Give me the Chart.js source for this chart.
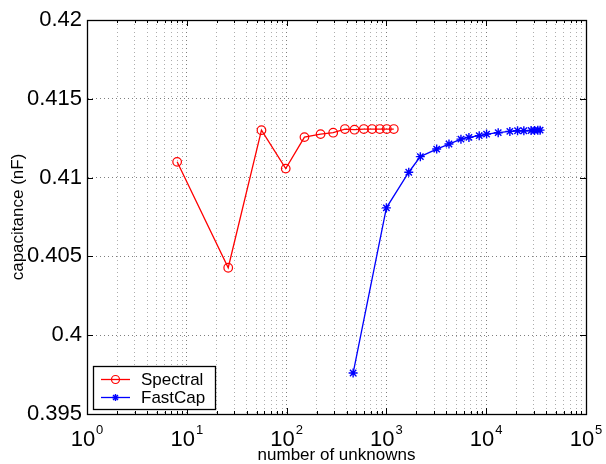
<!DOCTYPE html>
<html><head><meta charset="utf-8">
<script src="https://cdn.jsdelivr.net/npm/chart.js@4.4.0/dist/chart.umd.min.js"></script>
<style>html,body{margin:0;padding:0;background:#fff}canvas{display:block}</style>
</head><body>
<canvas id="c" width="606" height="464"></canvas>
<script>
// ---- data ----
const seriesNames = ['Spectral', 'FastCap'];
const spectralUnknowns = [8, 26, 56, 98, 151, 219, 293, 384, 479, 594, 719, 859, 1009, 1186];
const spectralCap = [0.4110, 0.40428, 0.41301, 0.41057, 0.41257, 0.41276, 0.41285, 0.41308, 0.41304, 0.41308, 0.41308, 0.41308, 0.41308, 0.41308];
const fastcapUnknowns = [464, 1000, 1675, 2188, 3190, 4237, 5585, 6714, 8511, 10090, 13190, 17260, 20620, 23830, 28180, 30480, 32890, 34680];
const fastcapCap = [0.3976, 0.40808, 0.41034, 0.41133, 0.41181, 0.41213, 0.41244, 0.41255, 0.41266, 0.41276, 0.41285, 0.41293, 0.41297, 0.41297, 0.41299, 0.41299, 0.41301, 0.41301];
const xDecades = [1, 10, 100, 1000, 10000, 100000];
const xExponents = ['0', '1', '2', '3', '4', '5'];
const yTicks = [0.395, 0.4, 0.405, 0.41, 0.415, 0.42];
const yTickLabels = ['0.395', '0.4', '0.405', '0.41', '0.415', '0.42'];
const xTitle = 'number of unknowns';
const yTitle = 'capacitance (nF)';

const FONT = '"Liberation Sans", Arial, Helvetica, sans-serif';
const toXY = (xs, ys) => xs.map((x, i) => ({x: x, y: ys[i]}));

const matlabPlugin = {
  id: 'matlabBox',
  afterDraw(chart) {
    const ctx = chart.ctx, a = chart.chartArea, xs = chart.scales.x, ys = chart.scales.y;
    ctx.save();
    ctx.strokeStyle = '#000';
    ctx.lineWidth = 1;
    ctx.setLineDash([]);
    // inner tick marks
    ctx.beginPath();
    xs.ticks.forEach(t => {
      const px = Math.round(xs.getPixelForValue(t.value)) + 0.5;
      const len = t.major ? 6 : 3;
      ctx.moveTo(px, a.bottom); ctx.lineTo(px, a.bottom - len);
      ctx.moveTo(px, a.top); ctx.lineTo(px, a.top + len);
    });
    ys.ticks.forEach(t => {
      const py = Math.round(ys.getPixelForValue(t.value)) + 0.5;
      ctx.moveTo(a.left, py); ctx.lineTo(a.left + 6, py);
      ctx.moveTo(a.right, py); ctx.lineTo(a.right - 6, py);
    });
    ctx.stroke();
    // box
    ctx.lineWidth = 1.3;
    ctx.strokeRect(Math.round(a.left) + 0.5, Math.round(a.top) + 0.5, Math.round(a.right - a.left), Math.round(a.bottom - a.top));

    // x tick labels 10^k
    ctx.fillStyle = '#000';
    ctx.textBaseline = 'alphabetic';
    ctx.textAlign = 'left';
    xDecades.forEach((v, i) => {
      const px = xs.getPixelForValue(v);
      ctx.font = '22px ' + FONT;
      const wb = ctx.measureText('10').width;
      ctx.font = '13px ' + FONT;
      const we = ctx.measureText(xExponents[i]).width;
      const start = px - (wb + 1 + we) / 2;
      ctx.font = '22px ' + FONT;
      ctx.fillText('10', start, 446);
      ctx.font = '13px ' + FONT;
      ctx.fillText(xExponents[i], start + wb + 1, 433.5);
    });

    // legend
    const lx = 93.5, ly = 366.5, lw = 122, lh = 43;
    ctx.fillStyle = '#fff';
    ctx.fillRect(lx, ly, lw, lh);
    ctx.strokeStyle = '#000';
    ctx.lineWidth = 1.3;
    ctx.strokeRect(lx, ly, lw, lh);
    const rows = [379.5, 397.5];
    chart.data.datasets.forEach((ds, i) => {
      const yy = rows[i];
      ctx.strokeStyle = ds.borderColor;
      ctx.lineWidth = ds.borderWidth;
      ctx.beginPath(); ctx.moveTo(101, yy); ctx.lineTo(130, yy); ctx.stroke();
      ctx.fillStyle = 'rgba(0,0,0,0)';
      ctx.lineWidth = ds.pointBorderWidth;
      Chart.helpers.drawPoint(ctx, {pointStyle: ds.pointStyle, radius: i === 0 ? 4 : 3.5, rotation: 0, borderWidth: ds.pointBorderWidth}, 115.5, yy);
      ctx.fillStyle = '#000';
      ctx.font = '17px ' + FONT;
      ctx.textBaseline = 'middle';
      ctx.fillText(ds.label, 141, yy + 1);
    });
    ctx.restore();
  }
};

const gridMajor = 'rgba(0,0,0,0.5)';
const gridMinor = 'rgba(0,0,0,0.32)';

new Chart(document.getElementById('c'), {
  type: 'line',
  data: {
    datasets: [
      {
        label: seriesNames[0],
        data: toXY(spectralUnknowns, spectralCap),
        borderColor: '#ff0000',
        backgroundColor: 'rgba(0,0,0,0)',
        borderWidth: 1.3,
        pointStyle: 'circle',
        pointRadius: 4.3,
        pointBorderWidth: 1.2,
        pointBackgroundColor: 'rgba(0,0,0,0)',
        pointBorderColor: '#ff0000',
        tension: 0,
        fill: false
      },
      {
        label: seriesNames[1],
        data: toXY(fastcapUnknowns, fastcapCap),
        borderColor: '#0000ff',
        backgroundColor: 'rgba(0,0,0,0)',
        borderWidth: 1.3,
        pointStyle: 'star',
        pointRadius: 4.5,
        pointBorderWidth: 1.4,
        pointBorderColor: '#0000ff',
        tension: 0,
        fill: false
      }
    ]
  },
  options: {
    responsive: false,
    animation: false,
    devicePixelRatio: 1,
    layout: {padding: {top: 20, right: 20, left: 0, bottom: 0}},
    plugins: {legend: {display: false}, tooltip: {enabled: false}},
    scales: {
      x: {
        type: 'logarithmic',
        position: 'bottom',
        min: 1,
        max: 100000,
        afterBuildTicks: (s) => {
          const t = [];
          for (let k = 0; k < xDecades.length - 1; k++) {
            for (let m = 1; m <= 9; m++) t.push({value: m * xDecades[k], major: m === 1});
          }
          t.push({value: xDecades[xDecades.length - 1], major: true});
          s.ticks = t;
        },
        afterFit: (s) => { s.height = 50; },
        ticks: {display: false},
        grid: {color: (c) => (c.tick && c.tick.major) ? gridMajor : gridMinor, lineWidth: 1, drawTicks: false},
        border: {display: true, color: '#000', width: 1, dash: [1, 3]},
        title: {display: true, text: xTitle, color: '#000', font: {family: FONT, size: 17, lineHeight: 1}, padding: {top: 0, bottom: 0}}
      },
      y: {
        type: 'linear',
        min: yTicks[0],
        max: yTicks[yTicks.length - 1],
        afterBuildTicks: (s) => { s.ticks = yTicks.map(v => ({value: v})); },
        afterFit: (s) => { s.width = 87; },
        ticks: {
          color: '#000',
          font: {family: FONT, size: 22},
          padding: 5,
          callback: (v) => { const i = yTicks.findIndex(t => Math.abs(t - v) < 1e-9); return i >= 0 ? yTickLabels[i] : ''; }
        },
        grid: {color: gridMajor, lineWidth: 1, drawTicks: false},
        border: {display: true, color: '#000', width: 1, dash: [1, 3]},
        title: {display: true, text: yTitle, color: '#000', font: {family: FONT, size: 17, lineHeight: 1}, padding: {top: 10, bottom: 0}}
      }
    }
  },
  plugins: [matlabPlugin]
});
</script>
</body></html>
